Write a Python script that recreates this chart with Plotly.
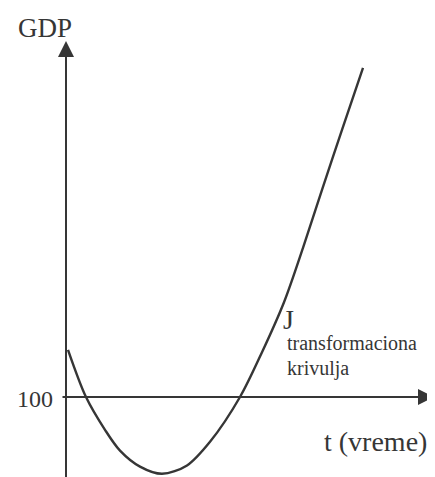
import plotly.graph_objects as go

# J-curve (t in arbitrary time units, GDP index)
t = [0.2, 2.0, 3.9, 5.4, 7.4, 9.6, 12.1, 14.4, 17.4, 19.6, 21.8, 23.7, 25.6, 27.6, 29.7]
gdp = [111.8, 100, 91.8, 86.6, 82.6, 80.8, 82.9, 88.8, 100, 111.2, 123.7, 137.3, 151.8, 166.8, 182.3]

base = 100
ink = "#363636"
font = "Liberation Serif"

fig = go.Figure()
fig.add_trace(go.Scatter(x=t, y=gdp, mode="lines",
                         line=dict(color=ink, width=2.4, shape="spline", smoothing=0.9),
                         hoverinfo="skip"))

# axes drawn as arrows
fig.add_annotation(x=0, y=189, ax=0, ay=77, xref="x", yref="y", axref="x", ayref="y",
                   text="", showarrow=True, arrowhead=2, arrowsize=1.6, arrowwidth=2, arrowcolor=ink)
fig.add_annotation(x=36.8, y=base, ax=-0.5, ay=base, xref="x", yref="y", axref="x", ayref="y",
                   text="", showarrow=True, arrowhead=2, arrowsize=1.6, arrowwidth=2, arrowcolor=ink)

fig.add_annotation(x=-1.1, y=99.5, text="100", showarrow=False, xanchor="right", yanchor="middle",
                   font=dict(family=font, size=24, color=ink))
fig.add_annotation(x=-2.1, y=192.3, text="GDP", showarrow=False, xanchor="center", yanchor="middle",
                   font=dict(family=font, size=27, color=ink))
fig.add_annotation(x=30.9, y=88.8, text="t (vreme)", showarrow=False, xanchor="center", yanchor="middle",
                   font=dict(family=font, size=28, color=ink))
fig.add_annotation(x=21.5, y=119.3, text="J", showarrow=False, xanchor="left", yanchor="middle",
                   font=dict(family=font, size=28, color=ink))
fig.add_annotation(x=21.9, y=113.6, text="transformaciona", showarrow=False, xanchor="left", yanchor="middle",
                   font=dict(family=font, size=20, color=ink))
fig.add_annotation(x=21.9, y=107.1, text="krivulja", showarrow=False, xanchor="left", yanchor="middle",
                   font=dict(family=font, size=20, color=ink))

# page body has an 8px margin, so ranges are shifted to land where the picture has them
fig.update_xaxes(range=[-5.8, 37.7], visible=False)
fig.update_yaxes(range=[78, 197.25], visible=False)
fig.update_layout(width=435, height=477, margin=dict(l=0, r=0, t=0, b=0, autoexpand=False),
                  plot_bgcolor="white", paper_bgcolor="white", showlegend=False)

fig.write_html("out.html")
